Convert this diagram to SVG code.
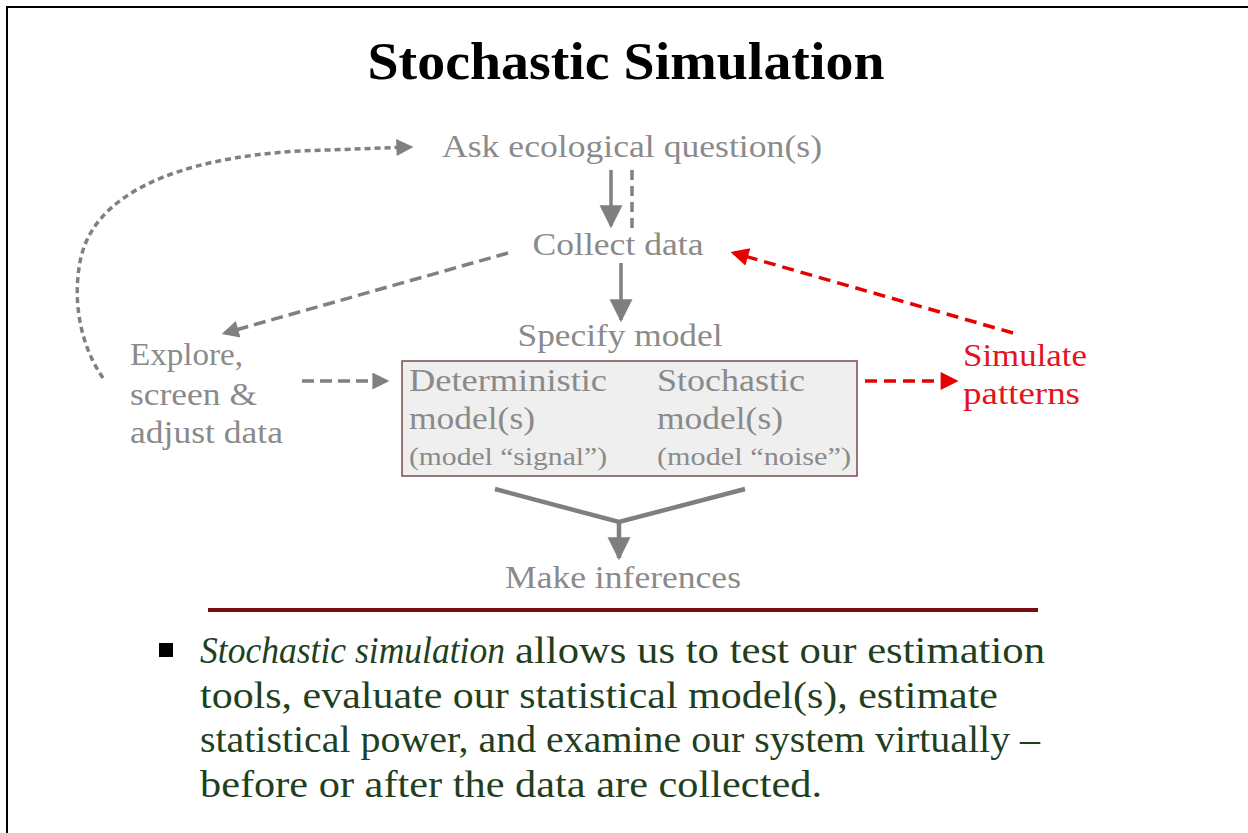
<svg xmlns="http://www.w3.org/2000/svg" width="1248" height="833" viewBox="0 0 1248 833">
<style>
.g{font-family:"Liberation Serif","Times New Roman",serif;fill:#8a8a8a;font-size:32px}
.r{font-family:"Liberation Serif","Times New Roman",serif;fill:#e3141e;font-size:32px}
.b{font-family:"Liberation Serif","Times New Roman",serif;fill:#1f3f1f;font-size:38px}
.gl{fill:none;stroke:#808080;stroke-width:3.5}
.rl{fill:none;stroke:#e60000;stroke-width:3.5}
</style>
<defs>
<marker id="ah" viewBox="0 0 10 10" refX="8" refY="5" markerUnits="userSpaceOnUse" markerWidth="20" markerHeight="17" orient="auto"><path d="M0,0 L10,5 L0,10 z" fill="#808080"/></marker>
<marker id="ahr" viewBox="0 0 10 10" refX="8" refY="5" markerUnits="userSpaceOnUse" markerWidth="21" markerHeight="18" orient="auto"><path d="M0,0 L10,5 L0,10 z" fill="#e60000"/></marker>
<marker id="ahb" viewBox="0 0 10 10" refX="9" refY="5" markerUnits="userSpaceOnUse" markerWidth="23" markerHeight="25" orient="auto"><path d="M0,0 L10,5 L0,10 z" fill="#7f7f7f"/></marker>
</defs>
<rect width="1248" height="833" fill="#fff"/>
<path d="M7,834 V7 H1248" fill="none" stroke="#000" stroke-width="2"/>

<text x="626" y="79" text-anchor="middle" textLength="517" lengthAdjust="spacingAndGlyphs" style="font-family:'Liberation Serif','Times New Roman',serif;font-weight:bold;font-size:52px;fill:#000">Stochastic Simulation</text>

<g id="connectors">
<path class="gl" d="M103,378 C82,348 72,305 80,262 C92,195 175,158 300,151 L410,147" stroke-dasharray="6 4" marker-end="url(#ah)"/>
<line class="gl" x1="611" y1="170" x2="611" y2="226" stroke-width="4.5" stroke="#7f7f7f" marker-end="url(#ahb)"/>
<line class="gl" x1="632" y1="170" x2="632" y2="228" stroke-width="4.5" stroke-dasharray="10 6"/>
<line class="gl" x1="621" y1="263" x2="621" y2="320" stroke-width="4.5" stroke="#7f7f7f" marker-end="url(#ahb)"/>
<line class="gl" x1="508" y1="253" x2="225" y2="333" stroke-dasharray="12 6" marker-end="url(#ah)"/>
<line class="gl" x1="302" y1="381" x2="386" y2="381" stroke-dasharray="12 6" marker-end="url(#ah)"/>
<line class="rl" x1="1013" y1="333" x2="734" y2="253" stroke-dasharray="12 7" marker-end="url(#ahr)"/>
<line class="rl" x1="865" y1="381" x2="955" y2="381" stroke-dasharray="12 7" marker-end="url(#ahr)"/>
<path d="M495,489 L619,522 L745,489" fill="none" stroke="#7f7f7f" stroke-width="4.5"/>
<line x1="619" y1="522" x2="619" y2="558" stroke="#7f7f7f" stroke-width="4.5" marker-end="url(#ahb)"/>
</g>

<g id="ask"><text class="g" x="632" y="157" text-anchor="middle" textLength="380" lengthAdjust="spacingAndGlyphs">Ask ecological question(s)</text></g>
<g id="collect"><text class="g" x="618" y="255" text-anchor="middle" textLength="171" lengthAdjust="spacingAndGlyphs">Collect data</text></g>
<g id="specify">
<text class="g" x="620" y="346" text-anchor="middle" textLength="205" lengthAdjust="spacingAndGlyphs">Specify model</text>
<rect x="402" y="361" width="455" height="115" fill="#efefef" stroke="#7d4a4a" stroke-width="1.5"/>
<text class="g" x="409" y="391" textLength="198" lengthAdjust="spacingAndGlyphs">Deterministic</text>
<text class="g" x="409" y="429" textLength="126" lengthAdjust="spacingAndGlyphs">model(s)</text>
<text class="g" x="409" y="465" textLength="198" lengthAdjust="spacingAndGlyphs" style="font-size:26px">(model “signal”)</text>
<text class="g" x="657" y="391" textLength="148" lengthAdjust="spacingAndGlyphs">Stochastic</text>
<text class="g" x="657" y="429" textLength="126" lengthAdjust="spacingAndGlyphs">model(s)</text>
<text class="g" x="657" y="465" textLength="194" lengthAdjust="spacingAndGlyphs" style="font-size:26px">(model “noise”)</text>
</g>
<g id="explore">
<text class="g" x="130" y="365" textLength="113" lengthAdjust="spacingAndGlyphs">Explore,</text>
<text class="g" x="130" y="405" textLength="127" lengthAdjust="spacingAndGlyphs">screen &amp;</text>
<text class="g" x="130" y="443" textLength="153" lengthAdjust="spacingAndGlyphs">adjust data</text>
</g>
<g id="simulate">
<text class="r" x="963" y="366" textLength="124" lengthAdjust="spacingAndGlyphs">Simulate</text>
<text class="r" x="963" y="404" textLength="117" lengthAdjust="spacingAndGlyphs">patterns</text>
</g>
<g id="infer"><text class="g" x="623" y="588" text-anchor="middle" textLength="236" lengthAdjust="spacingAndGlyphs">Make inferences</text></g>

<line x1="208" y1="610" x2="1038" y2="610" stroke="#780d0d" stroke-width="4"/>

<g id="bullet">
<rect x="159" y="643" width="14" height="14" fill="#000"/>
<text class="b" x="200" y="663" textLength="305" lengthAdjust="spacingAndGlyphs" style="font-style:italic">Stochastic simulation</text>
<text class="b" x="515" y="663" textLength="530" lengthAdjust="spacingAndGlyphs">allows us to test our estimation</text>
<text class="b" x="200" y="708" textLength="798" lengthAdjust="spacingAndGlyphs">tools, evaluate our statistical model(s), estimate</text>
<text class="b" x="200" y="752" textLength="840" lengthAdjust="spacingAndGlyphs">statistical power, and examine our system virtually –</text>
<text class="b" x="200" y="797" textLength="622" lengthAdjust="spacingAndGlyphs">before or after the data are collected.</text>
</g>
</svg>
